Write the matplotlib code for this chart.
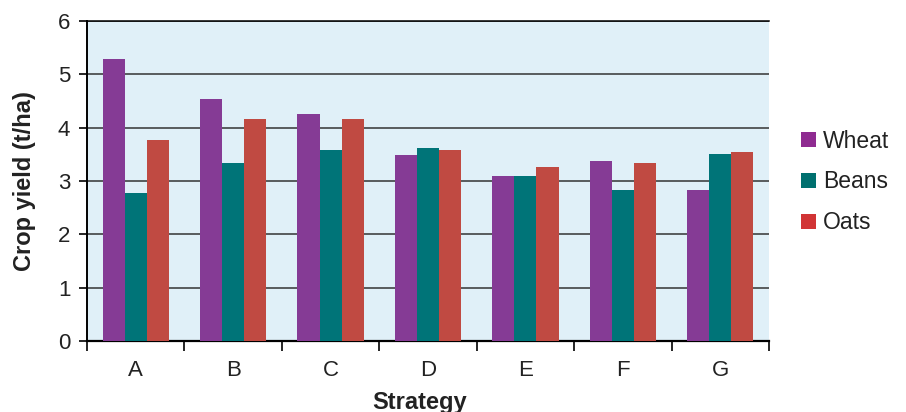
import numpy as np
import matplotlib.pyplot as plt

strategies = ['A', 'B', 'C', 'D', 'E', 'F', 'G']
wheat = [5.28, 4.53, 4.25, 3.49, 3.09, 3.38, 2.83]
beans = [2.78, 3.34, 3.58, 3.62, 3.09, 2.83, 3.50]
oats = [3.77, 4.17, 4.17, 3.58, 3.26, 3.34, 3.54]

series = [('Wheat', wheat, '#853B95'), ('Beans', beans, '#007478'), ('Oats', oats, '#C04A42')]
key_colors = ['#8F2B91', '#00706F', '#D13435']

plt.rcParams['font.family'] = ['Liberation Sans', 'DejaVu Sans']

fig = plt.figure(figsize=(9.06, 4.12), dpi=100)
ax = fig.add_axes([87 / 906, 1 - 341 / 412, 682 / 906, 320 / 412])
ax.set_facecolor('#E0F0F8')

x = np.arange(len(strategies))
width = 0.227
for i, (name, vals, color) in enumerate(series):
    ax.bar(x + (i - 1) * width, vals, width, color=color, label=name, zorder=3)

ax.set_xlim(-0.5, len(strategies) - 0.5)
ax.set_ylim(0, 6)
ax.set_yticks(range(7))
ax.tick_params(axis='y', labelsize=16, length=6, width=1.2, direction='out', pad=6,
               labelcolor='#222222')
ax.set_xticks(x)
ax.set_xticklabels(strategies)
ax.set_xticks(np.arange(-0.5, len(strategies)), minor=True)
ax.tick_params(axis='x', which='major', length=0, labelsize=16, pad=14, labelcolor='#222222')
ax.tick_params(axis='x', which='minor', length=7, width=1.2, direction='out')
ax.yaxis.grid(True, color='#333333', linewidth=1.1, zorder=1)
ax.set_axisbelow(True)

ax.spines['right'].set_visible(False)
ax.spines['top'].set_linewidth(1.1)
ax.spines['left'].set_linewidth(1.4)
ax.spines['bottom'].set_linewidth(1.6)

ax.set_ylabel('Crop yield (t/ha)', fontsize=17, fontweight='bold', color='#222222')
ax.yaxis.set_label_coords(-0.075, 0.5)
ax.set_xlabel('Strategy', fontsize=17, fontweight='bold', color='#222222')
ax.xaxis.set_label_coords(0.488, -0.155)

leg = ax.legend(loc='center left', bbox_to_anchor=(1.047, 0.497), frameon=False,
                fontsize=16.5, borderpad=0, borderaxespad=0, handlelength=0.65,
                handleheight=0.65, handletextpad=0.3, labelspacing=0.78,
                labelcolor='#222222')
for patch, c in zip(leg.get_patches(), key_colors):
    patch.set_facecolor(c)

fig.savefig('out.png', dpi=100)
